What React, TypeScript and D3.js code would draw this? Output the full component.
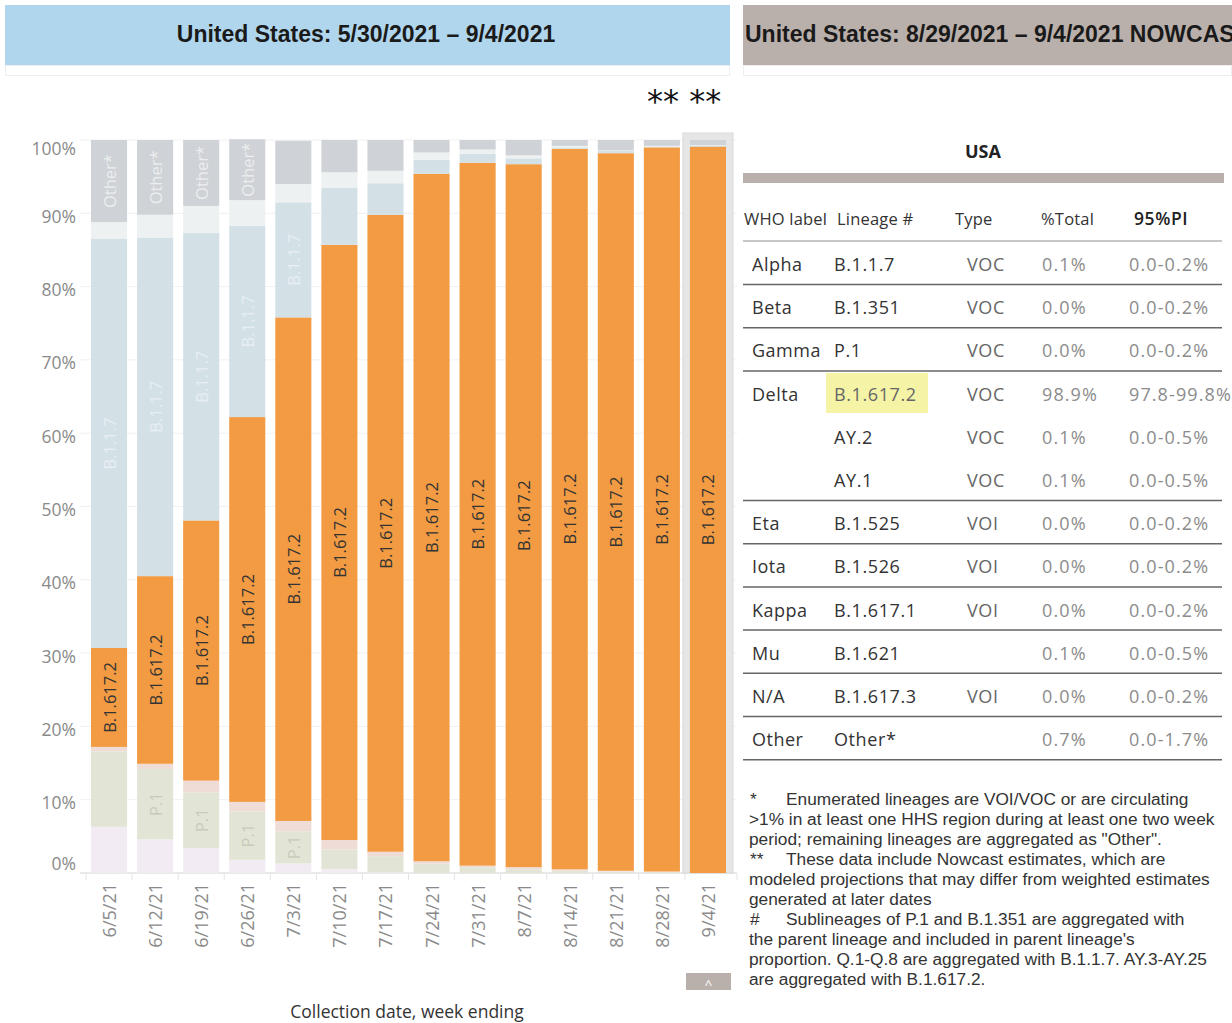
import React from 'react';
import * as d3 from 'd3';

const W = 1232;
const H = 1023;

// week ending dates
const weeks = ['6/5/21', '6/12/21', '6/19/21', '6/26/21', '7/3/21', '7/10/21', '7/17/21',
  '7/24/21', '7/31/21', '8/7/21', '8/14/21', '8/21/21', '8/28/21', '9/4/21'];

// lineage shares (%), bottom to top of each bar
const b1526 = [6.3, 4.6, 3.4, 1.8, 1.3, 0.5, 0.1, 0, 0, 0, 0, 0, 0, 0];
const p1 = [10.3, 9.6, 7.6, 6.6, 4.4, 2.7, 2.2, 1.3, 0.8, 0.5, 0.3, 0.2, 0.1, 0.0];
const b1351 = [0.6, 0.7, 1.6, 1.3, 1.4, 1.3, 0.6, 0.3, 0.2, 0.3, 0.2, 0.1, 0.1, 0.0];
const b16172 = [13.5, 25.6, 35.5, 52.5, 68.7, 81.2, 86.9, 93.8, 95.9, 95.9, 98.3, 97.9, 98.8, 99.1];
const b117 = [55.8, 46.2, 39.2, 26.1, 15.7, 7.8, 4.3, 1.9, 1.2, 0.8, 0.2, 0.3, 0.1, 0.1];
const b1621 = [2.3, 3.1, 3.7, 3.5, 2.5, 2.1, 1.7, 1.0, 0.6, 0.4, 0.2, 0.1, 0.1, 0.1];
const other = [11.2, 10.2, 9.0, 8.3, 5.9, 4.4, 4.2, 1.7, 1.3, 2.1, 0.8, 1.4, 0.8, 0.7];

const keys = ['B.1.526', 'P.1', 'B.1.351', 'B.1.617.2', 'B.1.1.7', 'B.1.621', 'Other*'];
const colors = ['#f3ebf3', '#e2e5d5', '#efdcd6', '#f29b43', '#d3e1e7', '#edf1f2', '#cfd2d6'];
const labelColors = ['none', '#c8cbbc', 'none', '#333333', '#e8eef1', 'none', '#eceef0'];

const yTicks = [0, 10, 20, 30, 40, 50, 60, 70, 80, 90, 100];

// nowcast table
const whoLabels = ['Alpha', 'Beta', 'Gamma', 'Delta', '', '', 'Eta', 'Iota', 'Kappa', 'Mu', 'N/A', 'Other'];
const lineages = ['B.1.1.7', 'B.1.351', 'P.1', 'B.1.617.2', 'AY.2', 'AY.1', 'B.1.525', 'B.1.526',
  'B.1.617.1', 'B.1.621', 'B.1.617.3', 'Other*'];
const types = ['VOC', 'VOC', 'VOC', 'VOC', 'VOC', 'VOC', 'VOI', 'VOI', 'VOI', '', 'VOI', ''];
const pctTotal = [0.1, 0.0, 0.0, 98.9, 0.1, 0.1, 0.0, 0.0, 0.0, 0.1, 0.0, 0.7];
const piLow = [0.0, 0.0, 0.0, 97.8, 0.0, 0.0, 0.0, 0.0, 0.0, 0.0, 0.0, 0.0];
const piHigh = [0.2, 0.2, 0.2, 99.8, 0.5, 0.5, 0.2, 0.2, 0.2, 0.5, 0.2, 1.7];
const rulesAfter = [0, 1, 2, 5, 6, 7, 8, 9, 10, 11];

const footnotes = [
  ['*', 'Enumerated lineages are VOI/VOC or are circulating'],
  ['', '>1% in at least one HHS region during at least one two week'],
  ['', 'period; remaining lineages are aggregated as "Other".'],
  ['**', 'These data include Nowcast estimates, which are'],
  ['', 'modeled projections that may differ from weighted estimates'],
  ['', 'generated at later dates'],
  ['#', 'Sublineages of P.1 and B.1.351 are aggregated with'],
  ['', "the parent lineage and included in parent lineage's"],
  ['', 'proportion. Q.1-Q.8 are aggregated with B.1.1.7. AY.3-AY.25'],
  ['', 'are aggregated with B.1.617.2.'],
];

const series = [b1526, p1, b1351, b16172, b117, b1621, other];
const rows = weeks.map((w, i) => {
  const r: any = { week: w };
  keys.forEach((k, j) => (r[k] = series[j][i]));
  return r;
});

const tableauFont = '"Open Sans", "Noto Sans", sans-serif';
const headFont = '"Liberation Sans Narrow", "Arial Narrow", "Liberation Sans", sans-serif';

export default function App() {
  const x = d3.scaleBand().domain(weeks).range([80, 737]).paddingInner(0.217).paddingOuter(0.239);
  const y = d3.scaleLinear().domain([0, 100]).range([873, 140]);
  const stacked = d3.stack().keys(keys)(rows);
  const bw = x.bandwidth();
  const step = x.step();
  const last = weeks[weeks.length - 1];

  const labelLen = (s: string) => s.length * 16.5 * 0.5;

  const rowY = (i: number) => 264 + i * 43.2;

  return (
    <div style={{ position: 'absolute', left: 0, top: 0 }}>
      <svg width={W} height={H} style={{ display: 'block', background: '#fff' }}>
        <defs>
          <clipPath id="rightHead"><rect x={743} y={5} width={489} height={60} /></clipPath>
        </defs>
        {/* headers */}
        <rect x={5} y={5} width={725} height={60} fill="#b0d6ed" />
        <rect x={5.5} y={65.5} width={724} height={10} fill="#fff" stroke="#efefef" />
        <text x={366} y={34} textAnchor="middle" dominantBaseline="central"
          fontFamily={headFont} fontWeight="bold" fontSize={23}
          fill="#1a1a1a">United States: 5/30/2021 – 9/4/2021</text>
        <rect x={743} y={5} width={489} height={60} fill="#bab0ab" />
        <rect x={743.5} y={65.5} width={488} height={10} fill="#fff" stroke="#efefef" />
        <g clipPath="url(#rightHead)">
          <text x={745} y={34} dominantBaseline="central"
            fontFamily={headFont} fontWeight="bold" fontSize={23}
            fill="#1a1a1a">United States: 8/29/2021 – 9/4/2021 NOWCAST</text>
        </g>

        <text x={647} y={101} dominantBaseline="central" fontFamily='"DejaVu Sans", sans-serif'
          fontSize={32} fill="#111">** **</text>

        {/* gridlines */}
        {yTicks.map(t => (
          <line key={t} x1={80} x2={737} y1={y(t)} y2={y(t)} stroke={t === 0 ? '#e2e2e2' : '#f1f1f1'}
            strokeWidth={t === 0 ? 1.5 : 1} />
        ))}
        {yTicks.map(t => (
          <text key={'l' + t} x={76} y={Math.max(148, Math.min(863, y(t) + 2.5))} textAnchor="end"
            dominantBaseline="central" fontFamily={tableauFont} fontSize={17.5} fill="#8a8a8a">{t}%</text>
        ))}

        {/* nowcast highlight */}
        <rect x={(x(last) as number) - 7} y={133} width={bw + 14} height={740} fill="#e6e6e6" stroke="#d9d9d9" />

        {/* bars */}
        {stacked.map((layer, j) => (
          <g key={keys[j]}>
            {layer.map((d, i) => (
              <rect key={i} x={x(weeks[i])} y={y(d[1])} width={bw}
                height={Math.max(0, y(d[0]) - y(d[1]))} fill={colors[j]} />
            ))}
          </g>
        ))}
        {stacked.map((layer, j) =>
          layer.map((d, i) => {
            const h = y(d[0]) - y(d[1]);
            if (labelColors[j] === 'none') return null;
            if (h < labelLen(keys[j]) + 6) return null;
            if (keys[j] === 'P.1' && i === 0) return null;
            const cx = (x(weeks[i]) as number) + bw / 2;
            const cy = (y(d[0]) + y(d[1])) / 2;
            return (
              <text key={keys[j] + i} transform={`translate(${cx},${cy}) rotate(-90)`} textAnchor="middle"
                dominantBaseline="central" fontFamily={tableauFont} fontSize={16.5}
                fill={labelColors[j]}>{keys[j]}</text>
            );
          })
        )}

        {/* x axis */}
        {weeks.map(w => (
          <line key={'t' + w} x1={(x(w) as number) - (step - bw) / 2} x2={(x(w) as number) - (step - bw) / 2}
            y1={874} y2={880} stroke="#e4e4e4" />
        ))}
        <line x1={737} x2={737} y1={874} y2={880} stroke="#e4e4e4" />
        {weeks.map(w => (
          <text key={'x' + w} transform={`translate(${(x(w) as number) + bw / 2},883) rotate(-90)`}
            textAnchor="end" dominantBaseline="central" fontFamily={tableauFont} fontSize={18}
            fill="#8a8a8a">{w}</text>
        ))}
        <text x={407} y={1011} textAnchor="middle" dominantBaseline="central" fontFamily={tableauFont}
          fontSize={17.5} fill="#333">Collection date, week ending</text>
        <rect x={686} y={973} width={45} height={17} fill="#bab0ab" />
        <text x={708.5} y={984} textAnchor="middle" dominantBaseline="central" fontFamily={tableauFont}
          fontSize={13} fill="#fff">^</text>

        {/* nowcast table */}
        <text x={983} y={151} textAnchor="middle" dominantBaseline="central" fontFamily={tableauFont}
          fontWeight="bold" fontSize={18} fill="#222">USA</text>
        <rect x={743} y={173} width={481} height={10} fill="#bab0ab" />
        {[['WHO label', 744], ['Lineage #', 837], ['Type', 955], ['%Total', 1041]].map(([t, px]) => (
          <text key={t as string} x={px as number} y={218} dominantBaseline="central" fontFamily={tableauFont}
            fontSize={16.5} letterSpacing={0.2} fill="#333">{t}</text>
        ))}
        <text x={1134} y={218} dominantBaseline="central" fontFamily={tableauFont} fontSize={17.5}
          fontWeight={600} letterSpacing={0.6} fill="#222">95%PI</text>
        <line x1={743} x2={1222} y1={241} y2={241} stroke="#b4b4b4" strokeWidth={1.5} />
        <rect x={826} y={373} width={102} height={40} fill="#f5f4a6" />
        {lineages.map((l, i) => (
          <g key={l} fontFamily={tableauFont} fontSize={18}>
            <text x={752} y={rowY(i)} dominantBaseline="central" letterSpacing={0.5} fill="#333">{whoLabels[i]}</text>
            <text x={834} y={rowY(i)} dominantBaseline="central" letterSpacing={0.6}
              fill={i === 3 ? '#666' : '#333'}>{l}</text>
            <text x={967} y={rowY(i)} dominantBaseline="central" letterSpacing={0.6} fill="#666">{types[i]}</text>
            <text x={1042} y={rowY(i)} dominantBaseline="central" letterSpacing={1.1}
              fill="#8c8c8c">{pctTotal[i].toFixed(1)}%</text>
            <text x={1129} y={rowY(i)} dominantBaseline="central" letterSpacing={1.1} fill="#8c8c8c">
              {piLow[i].toFixed(1)}-{piHigh[i].toFixed(1)}%</text>
          </g>
        ))}
        {rulesAfter.map(i => (
          <line key={'r' + i} x1={743} x2={1222} y1={rowY(i) + 20.5} y2={rowY(i) + 20.5} stroke="#666"
            strokeWidth={1.5} />
        ))}

        {/* footnotes */}
        {footnotes.map(([m, t], i) => (
          <g key={'f' + i} fontFamily='"Liberation Sans", Arial, sans-serif' fontSize={17.3} fill="#333">
            {m && <text x={750} y={799 + i * 20} dominantBaseline="central">{m}</text>}
            <text x={m ? 786 : 749} y={799 + i * 20} dominantBaseline="central">{t}</text>
          </g>
        ))}
      </svg>
    </div>
  );
}
